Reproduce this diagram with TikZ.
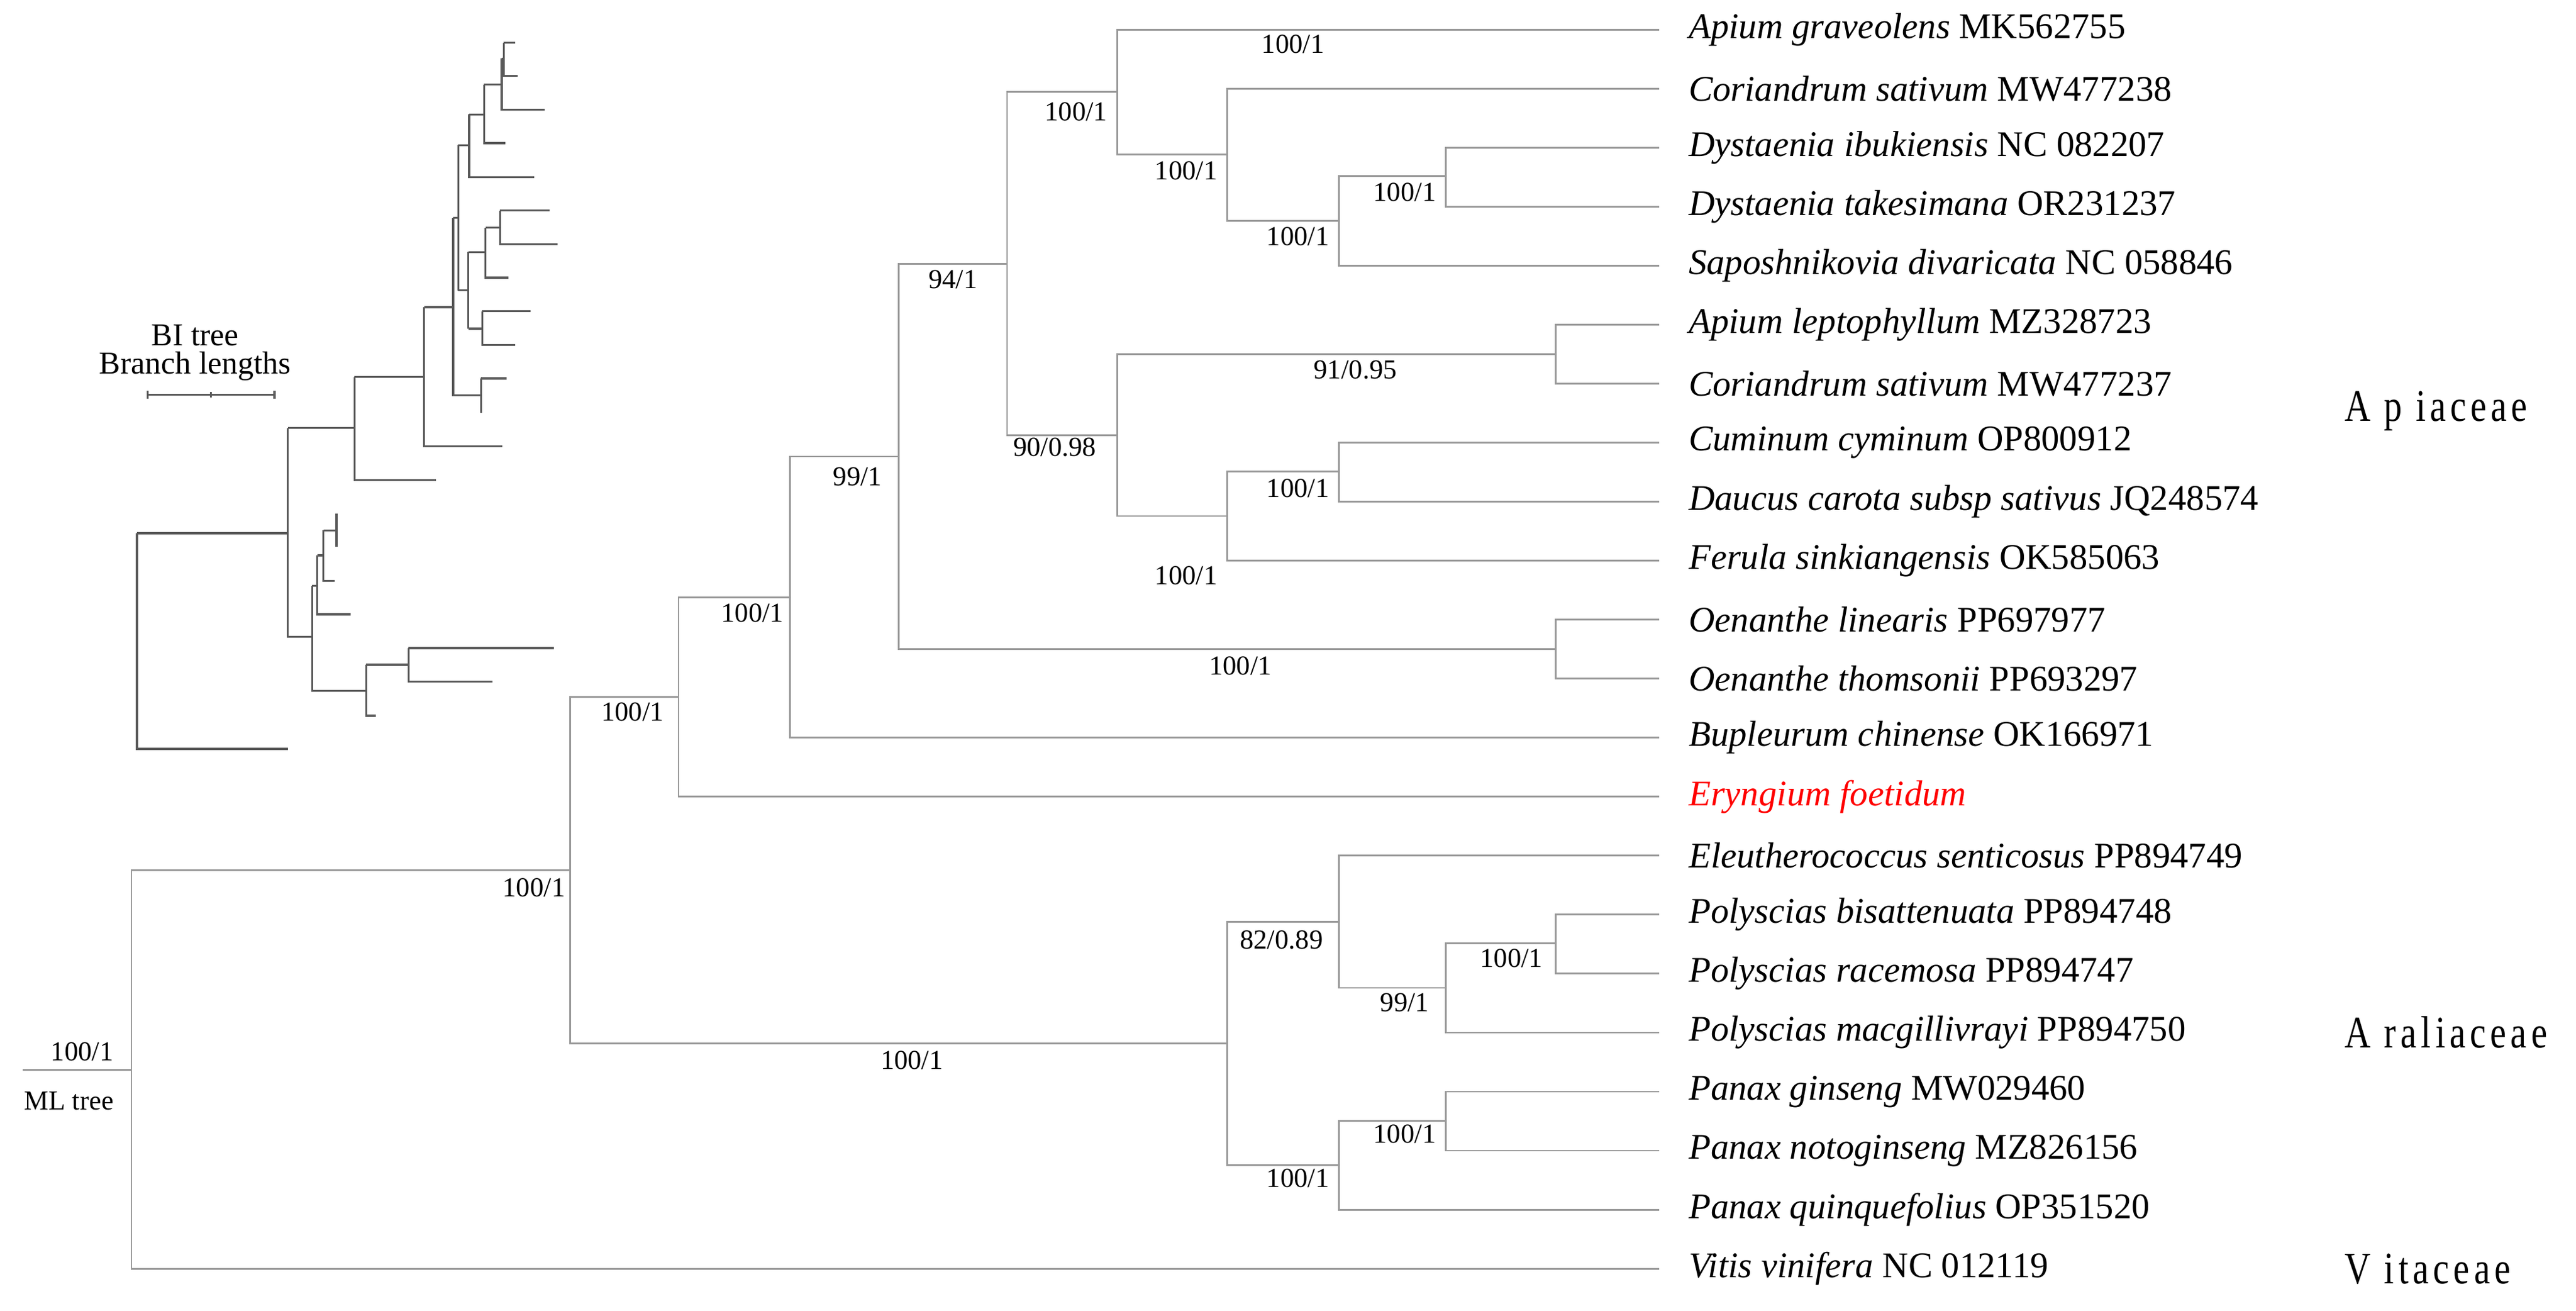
\documentclass[tikz,border=0pt]{standalone}
\usepackage{fontspec}
\setmainfont{Liberation Serif}
\newfontfamily\famfont[LetterSpace=12]{Liberation Serif}
\begin{document}
\begin{tikzpicture}[x={(0.02cm,0)},y={(0,-0.02cm)},
  br/.style={draw=black!40,line width=0.6pt},
  ibr/.style={draw=black!65,line width=0.7pt},
  leaf/.style={anchor=west,inner sep=0pt,font=\fontsize{12.5}{14}\selectfont},
  bs/.style={inner sep=0pt,font=\fontsize{9.5}{11}\selectfont},
  fam/.style={anchor=west,inner sep=0pt,font=\famfont\fontsize{12.5}{14}\selectfont,yscale=1.25}]
\useasboundingbox (0,0) rectangle (1568,797.6);
% internal nodes
\coordinate (st) at (14,651);
\coordinate (root) at (80,651);
\coordinate (A) at (347,529.5);
\coordinate (B) at (413,424.2);
\coordinate (C) at (481,363.4);
\coordinate (D) at (547,277.7);
\coordinate (E) at (613,160.4);
\coordinate (F) at (680,56);
\coordinate (H) at (747,94);
\coordinate (I) at (815,134.3);
\coordinate (J) at (880,107);
\coordinate (G) at (680,264.7);
\coordinate (K) at (947,215.4);
\coordinate (L) at (747,314);
\coordinate (M) at (815,287);
\coordinate (Oe) at (947,395);
\coordinate (N) at (747,635);
\coordinate (O) at (815,561);
\coordinate (Q) at (880,601);
\coordinate (R) at (947,574);
\coordinate (P) at (815,709);
\coordinate (S) at (880,682);
% leaves
\foreach \i in {1,...,22}{\coordinate (l\i) at (1010,{18+35.9*(\i-1)});}
\node[leaf] (t1) at ([xshift=10]l1) {\textit{Apium graveolens} MK562755};
\node[leaf] (t2) at ([xshift=10]l2) {\textit{Coriandrum sativum} MW477238};
\node[leaf] (t3) at ([xshift=10]l3) {\textit{Dystaenia ibukiensis} NC 082207};
\node[leaf] (t4) at ([xshift=10]l4) {\textit{Dystaenia takesimana} OR231237};
\node[leaf] (t5) at ([xshift=10]l5) {\textit{Saposhnikovia divaricata} NC 058846};
\node[leaf] (t6) at ([xshift=10]l6) {\textit{Apium leptophyllum} MZ328723};
\node[leaf] (t7) at ([xshift=10]l7) {\textit{Coriandrum sativum} MW477237};
\node[leaf] (t8) at ([xshift=10]l8) {\textit{Cuminum cyminum} OP800912};
\node[leaf] (t9) at ([xshift=10]l9) {\textit{Daucus carota subsp sativus} JQ248574};
\node[leaf] (t10) at ([xshift=10]l10) {\textit{Ferula sinkiangensis} OK585063};
\node[leaf] (t11) at ([xshift=10]l11) {\textit{Oenanthe linearis} PP697977};
\node[leaf] (t12) at ([xshift=10]l12) {\textit{Oenanthe thomsonii} PP693297};
\node[leaf] (t13) at ([xshift=10]l13) {\textit{Bupleurum chinense} OK166971};
\node[leaf,text=red] (t14) at ([xshift=10]l14) {\textit{Eryngium foetidum}};
\node[leaf] (t15) at ([xshift=10]l15) {\textit{Eleutherococcus senticosus} PP894749};
\node[leaf] (t16) at ([xshift=10]l16) {\textit{Polyscias bisattenuata} PP894748};
\node[leaf] (t17) at ([xshift=10]l17) {\textit{Polyscias racemosa} PP894747};
\node[leaf] (t18) at ([xshift=10]l18) {\textit{Polyscias macgillivrayi} PP894750};
\node[leaf] (t19) at ([xshift=10]l19) {\textit{Panax ginseng} MW029460};
\node[leaf] (t20) at ([xshift=10]l20) {\textit{Panax notoginseng} MZ826156};
\node[leaf] (t21) at ([xshift=10]l21) {\textit{Panax quinquefolius} OP351520};
\node[leaf] (t22) at ([xshift=10]l22) {\textit{Vitis vinifera} NC 012119};
% branches
\draw[br] (st) -- (root);
\draw[br] (root) |- (A) (root) |- (l22);
\draw[br] (A) |- (B) (A) |- (N);
\draw[br] (B) |- (C) (B) |- (l14);
\draw[br] (C) |- (D) (C) |- (l13);
\draw[br] (D) |- (E) (D) |- (Oe);
\draw[br] (Oe) |- (l11) (Oe) |- (l12);
\draw[br] (E) |- (F) (E) |- (G);
\draw[br] (F) |- (l1) (F) |- (H);
\draw[br] (H) |- (l2) (H) |- (I);
\draw[br] (I) |- (J) (I) |- (l5);
\draw[br] (J) |- (l3) (J) |- (l4);
\draw[br] (G) |- (K) (G) |- (L);
\draw[br] (K) |- (l6) (K) |- (l7);
\draw[br] (L) |- (M) (L) |- (l10);
\draw[br] (M) |- (l8) (M) |- (l9);
\draw[br] (N) |- (O) (N) |- (P);
\draw[br] (O) |- (l15) (O) |- (Q);
\draw[br] (Q) |- (R) (Q) |- (l18);
\draw[br] (R) |- (l16) (R) |- (l17);
\draw[br] (P) |- (S) (P) |- (l21);
\draw[br] (S) |- (l19) (S) |- (l20);
% support labels
\foreach \p/\t [count=\k] in {787/27/100\slash1, 655/68/100\slash1, 722/104/100\slash1, 855/117/100\slash1, 790/144/100\slash1, 580/170/94\slash1, 825/225/91\slash0.95, 522/290/99\slash1, 642/272/90\slash0.98, 790/297/100\slash1, 722/350/100\slash1, 458/373/100\slash1, 755/405/100\slash1, 385/433/100\slash1, 325/540/100\slash1, 780/572/82\slash0.89, 920/583/100\slash1, 855/610/99\slash1, 555/645/100\slash1, 855/690/100\slash1, 790/717/100\slash1, 50/640/100\slash1}{}
\node[bs] (s1) at (787,27) {100/1};
\node[bs] (s2) at (655,68) {100/1};
\node[bs] (s3) at (722,104) {100/1};
\node[bs] (s4) at (855,117) {100/1};
\node[bs] (s5) at (790,144) {100/1};
\node[bs] (s6) at (580,170) {94/1};
\node[bs] (s7) at (825,225) {91/0.95};
\node[bs] (s8) at (522,290) {99/1};
\node[bs] (s9) at (642,272) {90/0.98};
\node[bs] (s10) at (790,297) {100/1};
\node[bs] (s11) at (722,350) {100/1};
\node[bs] (s12) at (458,373) {100/1};
\node[bs] (s13) at (755,405) {100/1};
\node[bs] (s14) at (385,433) {100/1};
\node[bs] (s15) at (325,540) {100/1};
\node[bs] (s16) at (780,572) {82/0.89};
\node[bs] (s17) at (920,583) {100/1};
\node[bs] (s18) at (855,610) {99/1};
\node[bs] (s19) at (555,645) {100/1};
\node[bs] (s20) at (855,690) {100/1};
\node[bs] (s21) at (790,717) {100/1};
\node[bs] (s22) at (50,640) {100/1};
\node[bs] (ml) at (42,670) {ML tree};
% families
\node[fam] (f1) at (1427,250) {A p iaceae};
\node[fam] (f2) at (1427,628) {A raliaceae};
\node[fam] (f3) at (1427,772) {V itaceae};
% inset BI tree
\begin{scope}[yscale=1.3]
\draw[ibr] (83.4,249.6) -- (83.4,350.5) -- (175.2,350.5);
\draw[ibr] (83.4,249.6) -- (175.2,249.6);
\draw[ibr] (175.2,200.3) -- (175.2,298) -- (190,298);
\draw[ibr] (175.2,200.3) -- (215.8,200.3);
\draw[ibr] (215.8,176.4) -- (215.8,224.6) -- (265.3,224.6);
\draw[ibr] (215.8,176.4) -- (258.2,176.4);
\draw[ibr] (258.2,143.8) -- (258.2,208.8) -- (305.6,208.8);
\draw[ibr] (258.2,143.8) -- (275.8,143.8);
\draw[ibr] (275.8,102) -- (275.8,185) -- (292.8,185);
\draw[ibr] (292.8,177.1) -- (292.8,193.1);
\draw[ibr] (292.8,177.1) -- (308.5,177.1);
\draw[ibr] (275.8,102) -- (278.9,102);
\draw[ibr] (278.9,67.9) -- (278.9,135.9);
\draw[ibr] (278.9,67.9) -- (285.6,67.9);
\draw[ibr] (285.6,53.6) -- (285.6,83) -- (325,83);
\draw[ibr] (285.6,53.6) -- (294.7,53.6);
\draw[ibr] (294.7,39.6) -- (294.7,67) -- (307.5,67);
\draw[ibr] (294.7,39.6) -- (305.4,39.6);
\draw[ibr] (305.4,27.4) -- (305.4,51.3) -- (331.4,51.3);
\draw[ibr] (305.4,27.4) -- (306.6,27.4);
\draw[ibr] (306.6,20) -- (306.6,35.5) -- (315,35.5);
\draw[ibr] (306.6,20) -- (313.7,20);
\draw[ibr] (278.9,135.9) -- (285.1,135.9);
\draw[ibr] (285.1,118) -- (285.1,153.8);
\draw[ibr] (285.1,118) -- (295.6,118);
\draw[ibr] (295.6,106.6) -- (295.6,130) -- (309.4,130);
\draw[ibr] (295.6,106.6) -- (304.4,106.6);
\draw[ibr] (304.4,98.5) -- (304.4,114.2) -- (339.2,114.2);
\draw[ibr] (304.4,98.5) -- (334.5,98.5);
\draw[ibr] (285.1,153.8) -- (293.5,153.8);
\draw[ibr] (293.5,145.7) -- (293.5,161.4) -- (313.7,161.4);
\draw[ibr] (293.5,145.7) -- (323,145.7);
\draw[ibr] (190,274.2) -- (190,323.3) -- (222.9,323.3);
\draw[ibr] (190,274.2) -- (193.1,274.2);
\draw[ibr] (193.1,259.9) -- (193.1,287.5) -- (213.4,287.5);
\draw[ibr] (193.1,259.9) -- (196.9,259.9);
\draw[ibr] (196.9,248.2) -- (196.9,271.8) -- (203.8,271.8);
\draw[ibr] (196.9,248.2) -- (204.8,248.2);
\draw[ibr] (204.8,240.3) -- (204.8,255.8);
\draw[ibr] (222.9,311.1) -- (222.9,335) -- (228.9,335);
\draw[ibr] (222.9,311.1) -- (248.7,311.1);
\draw[ibr] (248.7,303.3) -- (248.7,319) -- (299.7,319);
\draw[ibr] (248.7,303.3) -- (337.3,303.3);
\draw[ibr] (89.9,184.8) -- (167.1,184.8);
\draw[ibr] (89.9,183) -- (89.9,186.6) (128.3,183.5) -- (128.3,186.1) (167.1,183) -- (167.1,186.6);
\end{scope}
\node[bs,font=\fontsize{11}{12}\selectfont] (bi1) at (118.7,204) {BI tree};
\node[bs,font=\fontsize{11}{12}\selectfont] (bi2) at (118.7,223) {Branch lengths};
\end{tikzpicture}
\end{document}
